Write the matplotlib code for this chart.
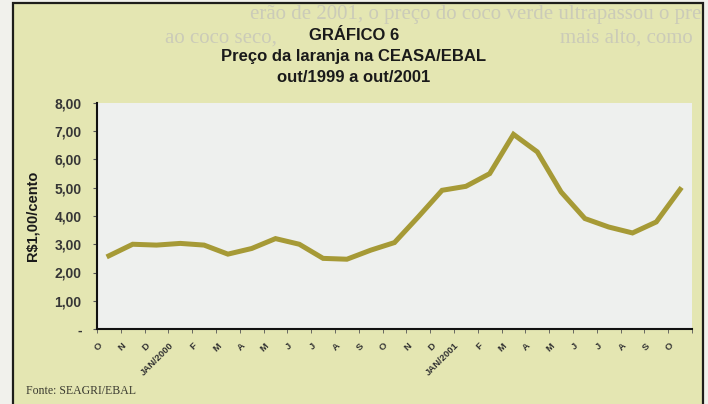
import numpy as np
import matplotlib
matplotlib.use('Agg')
import matplotlib.pyplot as plt
from matplotlib.patches import Rectangle
from matplotlib.transforms import ScaledTranslation

plt.rcParams['font.family'] = ['Liberation Sans', 'DejaVu Sans']

# data: preço da laranja, out/1999 a out/2001 (R$ por cento)
months = ['O', 'N', 'D', 'JAN/2000', 'F', 'M', 'A', 'M', 'J', 'J', 'A', 'S',
          'O', 'N', 'D', 'JAN/2001', 'F', 'M', 'A', 'M', 'J', 'J', 'A', 'S', 'O']
price = [2.59, 3.00, 2.97, 3.03, 2.97, 2.65, 2.85, 3.20, 3.00, 2.50, 2.47, 2.79,
         3.06, 3.97, 4.91, 5.05, 5.50, 6.89, 6.27, 4.85, 3.91, 3.61, 3.40, 3.79, 4.94]
yticks = [0, 1, 2, 3, 4, 5, 6, 7, 8]
ylabels = ['-', '1,00', '2,00', '3,00', '4,00', '5,00', '6,00', '7,00', '8,00']

W, H = 708, 404
fig = plt.figure(figsize=(W / 100, H / 100), dpi=100)
fig.patch.set_facecolor('#f1f1ec')

# yellow panel with dark frame
panel = Rectangle((13 / W, -0.02), (703 - 13) / W, 1.02 - 3 / H,
                  transform=fig.transFigure, facecolor='#e4e6b2',
                  edgecolor='#1e1e1a', lw=1.6, zorder=-5)
fig.patches.append(panel)

# faint show-through text from the page
bleed = '#cbcbb8'
fig.text(250 / W, 1 - 15 / H, 'erão de 2001, o preço do coco verde ultrapassou o pre',
         family='Liberation Serif', fontsize=15, color=bleed, va='center', zorder=-4)
fig.text(165 / W, 1 - 38 / H, 'ao coco seco,', family='Liberation Serif',
         fontsize=15, color=bleed, va='center', zorder=-4)
fig.text(560 / W, 1 - 38 / H, 'mais alto, como', family='Liberation Serif',
         fontsize=15, color=bleed, va='center', zorder=-4)

ax = fig.add_axes([97 / W, 1 - 329 / H, (692 - 97) / W, (329 - 103) / H])
ax.set_facecolor('#eef0ee')

x = np.arange(len(price))
ax.plot(x, price, color='#a69a36', lw=3.6, solid_joinstyle='miter', zorder=3)

ax.set_xlim(-0.5, len(price) - 0.5)
ax.set_ylim(0, 8)

for s in ['top', 'right']:
    ax.spines[s].set_visible(False)
for s in ['left', 'bottom']:
    ax.spines[s].set_color('#111111')
    ax.spines[s].set_linewidth(1.5)

ax.set_yticks(yticks)
ax.set_yticklabels(ylabels, fontsize=10, fontweight='bold', color='#363636')
ax.tick_params(axis='y', direction='out', length=3, pad=8, color='#555555')

ax.set_xticks(x)
ax.set_xticklabels(months, rotation=45, ha='right', va='center',
                   rotation_mode='anchor', fontsize=6.8, fontweight='bold',
                   color='#333333')
ax.set_xticks(np.arange(-0.5, len(price)), minor=True)
ax.tick_params(axis='x', which='major', length=0, pad=11)
ax.tick_params(axis='x', which='minor', direction='out', length=3, color='#555555')
shift = ScaledTranslation(-8 / 100, 0, fig.dpi_scale_trans)
for lab in ax.get_xticklabels():
    lab.set_transform(lab.get_transform() + shift)

fig.text(0.5, 1 - 35 / H, 'GRÁFICO 6', ha='center', va='center',
         fontsize=12, fontweight='bold', color='#1a1a1a', zorder=5)
fig.text(0.5, 1 - 57 / H, 'Preço da laranja na CEASA/EBAL', ha='center', va='center',
         fontsize=12, fontweight='bold', color='#1a1a1a', zorder=5)
fig.text(0.5, 1 - 78 / H, 'out/1999 a out/2001', ha='center', va='center',
         fontsize=12, fontweight='bold', color='#1a1a1a', zorder=5)

fig.text(33 / W, 1 - 216 / H, 'R$1,00/cento', rotation=90, ha='center', va='center',
         fontsize=10.5, fontweight='bold', color='#1a1a1a')

fig.text(26 / W, 1 - 394 / H, 'Fonte: SEAGRI/EBAL', family='Liberation Serif',
         fontsize=8.5, color='#3a3a30', va='baseline')

fig.savefig('out.png', dpi=100, facecolor=fig.get_facecolor())
